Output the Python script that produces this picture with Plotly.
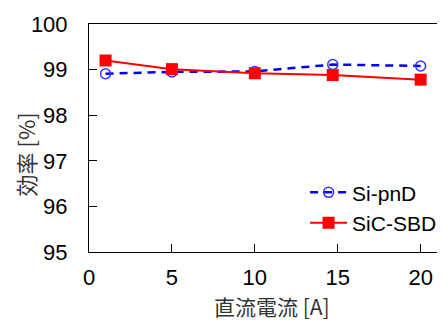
import plotly.graph_objects as go

x_vals = [1, 5, 10, 14.7, 20]
si_pnd = [98.91, 98.95, 98.96, 99.11, 99.08]
sic_sbd = [99.20, 99.01, 98.92, 98.88, 98.78]
x_ticks = [0, 5, 10, 15, 20]
y_ticks = [95, 96, 97, 98, 99, 100]
x_title = "直流電流 [A]"
y_title = "効率 [%]"

fig = go.Figure()
fig.add_trace(go.Scatter(
    x=x_vals, y=si_pnd, name="Si-pnD", mode="lines+markers",
    line=dict(color="#0000EE", width=2.5, dash="8px,6px"),
    marker=dict(symbol="circle-open", size=10, color="#3333FF", line=dict(width=1.5)),
))
fig.add_trace(go.Scatter(
    x=x_vals, y=sic_sbd, name="SiC-SBD", mode="lines+markers",
    line=dict(color="#FF0000", width=2),
    marker=dict(symbol="square", size=12, color="#FF0000"),
))

# page body adds an 8px margin, so the figure is sized/offset to compensate
cjk = dict(family="Noto Sans CJK JP", size=22, color="#333333")
xcjk = dict(family="Noto Sans CJK JP", size=21, color="#333333")
fig.update_layout(
    width=437, height=312,
    margin=dict(l=81, r=0, t=16, b=68, autoexpand=False),
    paper_bgcolor="white", plot_bgcolor="white",
    font=dict(family="Liberation Sans, Arial, sans-serif", size=22, color="black"),
    showlegend=True,
    legend=dict(x=0.607, y=0.35, xanchor="left", yanchor="top",
                bgcolor="rgba(0,0,0,0)", font=dict(size=21),
                tracegroupgap=0, itemsizing="trace", itemwidth=37),
    annotations=[
        dict(text=x_title, xref="paper", yref="paper", x=0.515, y=0, yshift=-54,
             xanchor="center", yanchor="middle", showarrow=False, font=xcjk, borderpad=0),
        dict(text=y_title, xref="paper", yref="paper", x=0, y=0.428, xshift=-64,
             xanchor="center", yanchor="middle", showarrow=False, textangle=-90, font=cjk),
    ],
)
fig.update_xaxes(
    range=[0, 21.47], tickvals=x_ticks, ticks="inside", ticklen=8, tickcolor="black",
    showline=True, linecolor="black", linewidth=1, mirror=True, showgrid=False, zeroline=False,
    automargin=False, ticklabelstandoff=6,
)
fig.update_yaxes(
    range=[95, 100], tickvals=y_ticks, ticks="inside", ticklen=8, tickcolor="black",
    showline=True, linecolor="black", linewidth=1, mirror=False, showgrid=False, zeroline=False,
    automargin=False, ticklabelstandoff=16,
)

fig.write_html("out.html")
